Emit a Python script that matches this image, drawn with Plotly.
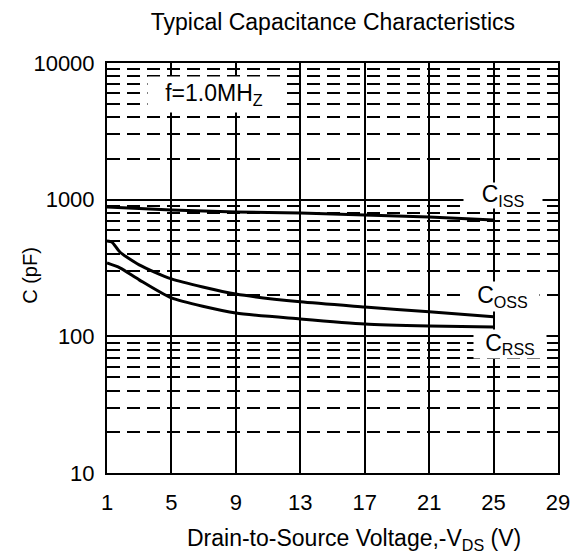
import plotly.graph_objects as go

# ---- data ----
ciss_v = [1, 5, 9, 13, 17, 21, 25]
ciss_c = [885, 841, 813, 800, 773, 747, 711]

coss_v = [1, 1.3, 1.8, 3, 5, 9, 13, 17, 21, 25]
coss_c = [499, 490, 414, 333, 263, 204, 179, 164, 151, 139]

crss_v = [1, 1.8, 3, 5, 9, 13, 17, 21, 25]
crss_c = [344, 317, 259, 191, 148, 134, 123, 119, 117]

x_ticks = [1, 5, 9, 13, 17, 21, 25, 29]
y_ticks = [10, 100, 1000, 10000]
y_tick_text = ["10", "100", "1000", "10000"]

FONT = "Liberation Sans, Arial, sans-serif"

fig = go.Figure()
for v, c in [(ciss_v, ciss_c), (coss_v, coss_c), (crss_v, crss_c)]:
    fig.add_trace(go.Scatter(x=v, y=c, mode="lines",
                             line=dict(color="black", width=3, shape="spline", smoothing=0.6),
                             showlegend=False, hoverinfo="skip"))

fig.update_layout(
    width=581, height=554,
    margin=dict(l=107, r=23, t=63, b=81, autoexpand=False),
    paper_bgcolor="white", plot_bgcolor="white",
    font=dict(family=FONT, color="black", size=22),
    title=dict(text="Typical Capacitance Characteristics", x=0.573, xanchor="center",
               y=1 - 22 / 554, yanchor="middle", yref="container",
               font=dict(size=23, family=FONT, color="black")),
)

fig.update_xaxes(
    range=[1, 29], tickvals=x_ticks, ticktext=[str(t) for t in x_ticks],
    showgrid=True, gridcolor="black", gridwidth=1.5,
    showline=True, linecolor="black", linewidth=2, mirror=True,
    ticks="", ticklabelstandoff=9, tickfont=dict(size=22, family=FONT),
    zeroline=False, automargin=False,
)
fig.update_yaxes(
    type="log", range=[1, 4], tickvals=y_ticks, ticktext=y_tick_text,
    showgrid=True, gridcolor="black", gridwidth=1.5,
    showline=True, linecolor="black", linewidth=2, mirror=True,
    ticks="", ticklabelstandoff=6, tickfont=dict(size=22, family=FONT),
    minor=dict(dtick="D1", showgrid=True, gridcolor="black", gridwidth=2, griddash="13px,7px"),
    zeroline=False, automargin=False,
)

# axis titles
fig.add_annotation(text="Drain-to-Source Voltage,-V<sub>DS</sub> (V)", xref="paper", yref="paper",
                   x=0.548, y=-0.163, showarrow=False, xanchor="center", yanchor="middle",
                   font=dict(size=23, family=FONT))
fig.add_annotation(text="C (pF)", xref="paper", yref="paper", x=-0.171, y=0.483,
                   textangle=-90, showarrow=False, xanchor="center", yanchor="middle",
                   font=dict(size=20, family=FONT))

# in-plot labels with white boxes
labels = [
    ("f=1.0MH<sub>Z</sub>", 7.64, 3.766, 132, 35),
    ("C<sub>ISS</sub>", 25.57, 3.027, 78, 25),
    ("C<sub>OSS</sub>", 25.57, 2.288, 73, 29),
    ("C<sub>RSS</sub>", 26.0, 1.944, 72, 28),
]
for txt, x, y, w, h in labels:
    fig.add_annotation(text=txt, x=x, y=y, xref="x", yref="y", showarrow=False,
                       bgcolor="white", width=w, height=h, borderpad=0,
                       xanchor="center", yanchor="middle", align="center", valign="middle",
                       font=dict(size=23, family=FONT))

# remove the default 8px page margin so the figure fills the window exactly
fig.write_html("out.html", config={"displayModeBar": False},
               post_script="document.body.style.margin='0px';")
